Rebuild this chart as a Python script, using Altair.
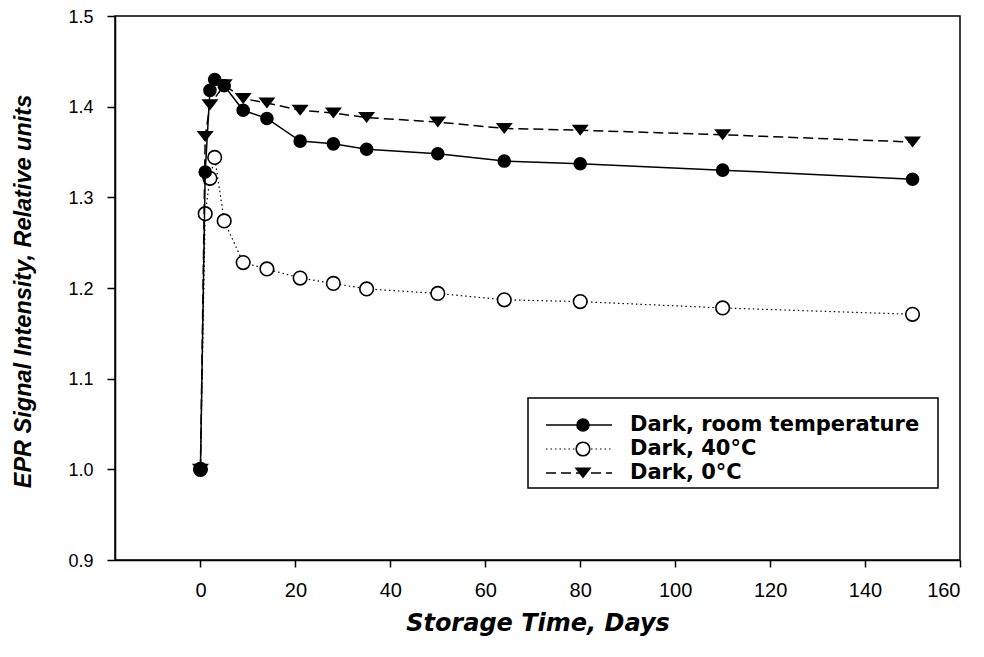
import altair as alt
import pandas as pd

# ---- data ----
days_rt = [0, 1, 2, 3, 5, 9, 14, 21, 28, 35, 50, 64, 80, 110, 150]
epr_rt = [1.0, 1.328, 1.418, 1.430, 1.423, 1.396, 1.387, 1.362, 1.359, 1.353, 1.348, 1.340, 1.337, 1.330, 1.320]

days_40 = [0, 1, 2, 3, 5, 9, 14, 21, 28, 35, 50, 64, 80, 110, 150]
epr_40 = [1.0, 1.282, 1.321, 1.344, 1.274, 1.228, 1.221, 1.211, 1.205, 1.199, 1.194, 1.187, 1.185, 1.178, 1.171]

days_0 = [0, 1, 2, 5, 9, 14, 21, 28, 35, 50, 64, 80, 110, 150]
epr_0 = [1.0, 1.367, 1.402, 1.424, 1.409, 1.404, 1.396, 1.393, 1.388, 1.383, 1.376, 1.374, 1.369, 1.361]

series_names = ["Dark, room temperature", "Dark, 40\u00b0C", "Dark, 0\u00b0C"]
x_ticks = [0, 20, 40, 60, 80, 100, 120, 140, 160]
y_ticks = [0.9, 1.0, 1.1, 1.2, 1.3, 1.4, 1.5]

W, H = 845, 544
TRI = "M-1,-0.65L1,-0.65L0,0.65Z"  # flattened downward triangle
CIRCLE_SIZE = 185
TRI_SIZE = 290

df_rt = pd.DataFrame({"t": days_rt, "v": epr_rt})
df_40 = pd.DataFrame({"t": days_40, "v": epr_40})
df_0 = pd.DataFrame({"t": days_0, "v": epr_0})

xs = alt.Scale(domain=[-18, 160], nice=False, zero=False)
ys = alt.Scale(domain=[0.9, 1.5], nice=False, zero=False)

x_enc = alt.X("t:Q", scale=xs, axis=alt.Axis(
    values=x_ticks, title="Storage Time, Days", tickSize=7, labelPadding=13, labelFontSize=20,
    titleFont="DejaVu Sans", titleFontSize=24, titleFontWeight="bold", titleFontStyle="italic",
    titleBaseline="alphabetic", titleY=70, titleX=W / 2))
y_enc = alt.Y("v:Q", scale=ys, axis=alt.Axis(
    values=y_ticks, format=".1f", title="EPR Signal Intensity, Relative units",
    tickSize=8, labelPadding=14, labelFontSize=18, labelOffset=1,
    titleFont="Liberation Sans", titleFontSize=23.5, titleFontWeight="bold", titleFontStyle="italic",
    titleAngle=270, titleBaseline="alphabetic", titleX=-85, titleY=H / 2 + 3, titleAlign="center"))

line_40 = alt.Chart(df_40).mark_line(color="black", strokeWidth=1.2, strokeDash=[1.5, 3]).encode(x=x_enc, y=y_enc)
pts_40 = alt.Chart(df_40).mark_point(shape="circle", size=CIRCLE_SIZE, filled=False, fill="white",
                                     stroke="black", strokeWidth=1.6, opacity=1).encode(x="t:Q", y="v:Q")
line_0 = alt.Chart(df_0).mark_line(color="black", strokeWidth=1.5, strokeDash=[10, 5]).encode(x="t:Q", y="v:Q")
pts_0 = alt.Chart(df_0).mark_point(shape=TRI, size=TRI_SIZE, filled=True, color="black",
                                   opacity=1).encode(x="t:Q", y="v:Q")
line_rt = alt.Chart(df_rt).mark_line(color="black", strokeWidth=1.5).encode(x="t:Q", y="v:Q")
pts_rt = alt.Chart(df_rt).mark_point(shape="circle", size=CIRCLE_SIZE, filled=True, color="black",
                                     opacity=1).encode(x="t:Q", y="v:Q")

# ---- manual legend (positions relative to the plot area) ----
dummy = alt.Data(values=[{"a": 1}])
box = alt.Chart(dummy).mark_rect(fill="white", stroke="black", strokeWidth=1.5).encode(
    x=alt.value(413), x2=alt.value(823), y=alt.value(382), y2=alt.value(472))
legend_layers = [box]
row_y0, row_dy = 409, 24
styles = [
    dict(dash=None, shape="circle", filled=True, size=CIRCLE_SIZE, width=1.5),
    dict(dash=[1.5, 3], shape="circle", filled=False, size=CIRCLE_SIZE, width=1.2),
    dict(dash=[10, 5], shape=TRI, filled=True, size=TRI_SIZE, width=1.5),
]
for i, (name, st) in enumerate(zip(series_names, styles)):
    yy = row_y0 + row_dy * i
    rule_kw = dict(color="black", strokeWidth=st["width"])
    if st["dash"]:
        rule_kw["strokeDash"] = st["dash"]
    legend_layers.append(alt.Chart(dummy).mark_rule(**rule_kw).encode(
        x=alt.value(431), x2=alt.value(497), y=alt.value(yy)))
    if st["filled"]:
        pm = alt.Chart(dummy).mark_point(shape=st["shape"], size=st["size"], filled=True,
                                          color="black", opacity=1)
    else:
        pm = alt.Chart(dummy).mark_point(shape=st["shape"], size=st["size"], filled=False,
                                          fill="white", stroke="black", strokeWidth=1.6, opacity=1)
    legend_layers.append(pm.encode(x=alt.value(468), y=alt.value(yy)))
    legend_layers.append(alt.Chart(dummy).mark_text(
        font="DejaVu Sans", fontSize=21, fontWeight="bold", align="left", baseline="middle",
        color="black").encode(x=alt.value(515), y=alt.value(yy), text=alt.value(name)))

chart = alt.layer(line_40, pts_40, line_0, pts_0, line_rt, pts_rt, *legend_layers).properties(
    width=W, height=H,
    autosize=alt.AutoSizeParams(type="none"),
    padding={"left": 107, "top": 8, "right": 10, "bottom": 85},
    background="white",
).configure_view(
    stroke="black", strokeWidth=1.5
).configure_axis(
    grid=False, domainColor="black", domainWidth=1.5, tickColor="black", tickWidth=1.5,
    labelFont="Liberation Sans", labelColor="black", titleColor="black",
)

chart.save("out.html", embed_options={"renderer": "svg", "actions": False})
